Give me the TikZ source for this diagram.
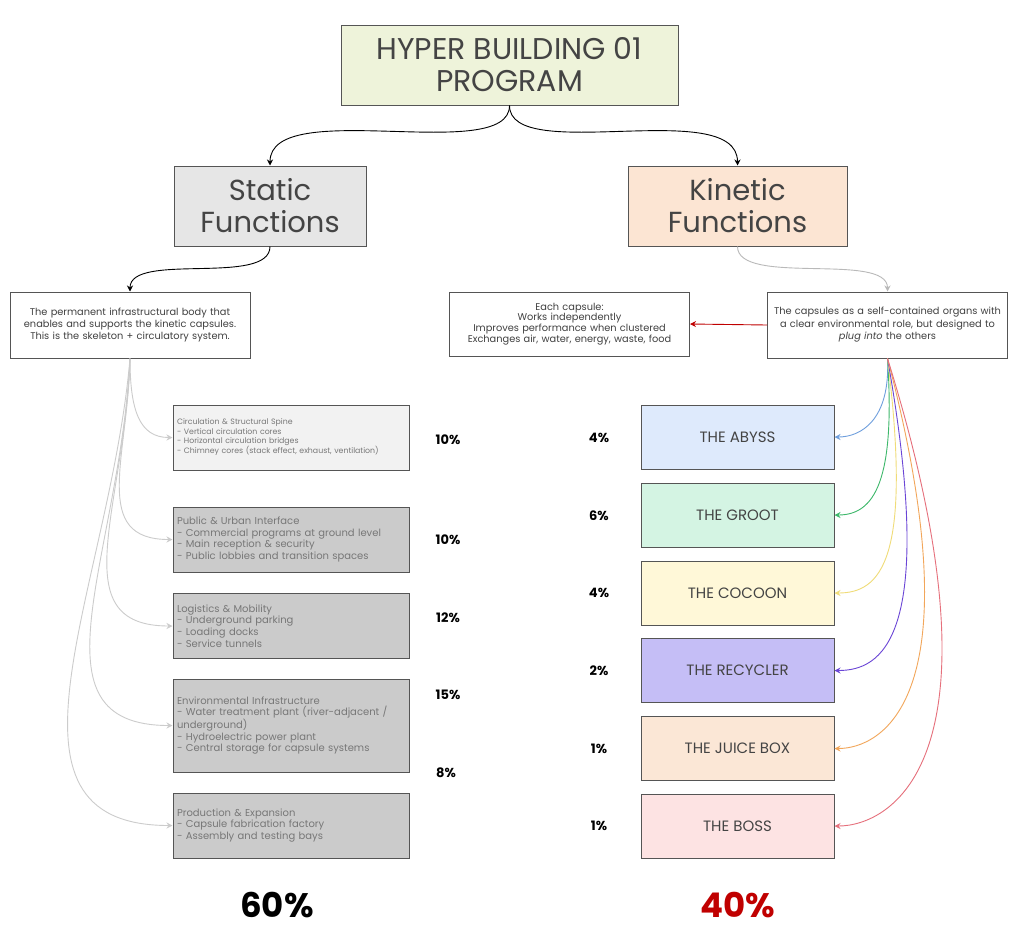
\documentclass[tikz,border=0pt]{standalone}
\usepackage{fontspec}
\setmainfont{Poppins}
\usepackage{xcolor}
\usetikzlibrary{arrows.meta, positioning}
\definecolor{bordercolor}{HTML}{555555}
\definecolor{textgray}{HTML}{444444}
\definecolor{softgray}{HTML}{777777}
\definecolor{titlegreen}{HTML}{EEF3DA}
\definecolor{staticgray}{HTML}{E6E6E6}
\definecolor{kineticpeach}{HTML}{FCE5D3}
\definecolor{lightfill}{HTML}{F2F2F2}
\definecolor{darkfill}{HTML}{CBCBCB}
\definecolor{abyssblue}{HTML}{DEEAFC}
\definecolor{grootgreen}{HTML}{D4F4E3}
\definecolor{cocoonyellow}{HTML}{FFF8D8}
\definecolor{recyclerpurple}{HTML}{C5BEF6}
\definecolor{juiceorange}{HTML}{FBE7D6}
\definecolor{bosspink}{HTML}{FDE3E3}
\definecolor{accentred}{HTML}{C00000}
\definecolor{abyssline}{HTML}{6F9FDD}
\definecolor{grootline}{HTML}{3DB86A}
\definecolor{cocoonline}{HTML}{F0DC78}
\definecolor{recyclerline}{HTML}{6A45D6}
\definecolor{juiceline}{HTML}{F2A65A}
\definecolor{bossline}{HTML}{E6707C}

\begin{document}
\begin{tikzpicture}[x=1pt, y=-1pt,
  box/.style={rectangle, draw=bordercolor, line width=1pt, align=center, text=textgray},
  headbox/.style={box, font=\fontsize{29}{32}\selectfont, minimum height=80},
  descbox/.style={box, fill=white, minimum height=65, text width=234, inner xsep=3, text=darkgray, font=\fontsize{9.8}{11.7}\selectfont},
  progbox/.style={box, minimum width=236, minimum height=65, text width=228, inner xsep=4, align=left, text=softgray, font=\fontsize{10}{11.6}\selectfont},
  capsule/.style={box, minimum width=193, minimum height=64, font=\fontsize{15}{17}\selectfont},
  pct/.style={font=\fontsize{13}{15}\selectfont\bfseries},
  total/.style={font=\fontsize{34}{40}\selectfont\bfseries},
  arrow/.style={-{Stealth[length=6pt, width=6pt]}, line width=0.9pt},
  feed/.style={-{Stealth[length=6pt, width=6pt]}, draw=gray!55, line width=0.9pt}
]
  \useasboundingbox[fill=white] (0,0) rectangle (1024,932);

  % Top of the tree
  \node[headbox, fill=titlegreen, minimum width=337, font=\fontsize{30}{32}\selectfont] (title) at (509.5,65) {HYPER BUILDING 01\\PROGRAM};
  \node[headbox, fill=staticgray, minimum width=192] (static) at (270,206) {Static\\Functions};
  \node[headbox, fill=kineticpeach, minimum width=219] (kinetic) at (737.5,206) {Kinetic\\Functions};

  % Descriptions
  \node[descbox, minimum height=66] (sdesc) at (130,325) {The permanent infrastructural body that\\enables and supports the kinetic capsules.\\This is the skeleton + circulatory system.};
  \node[descbox, minimum height=64, font=\fontsize{9.8}{10.7}\selectfont] (each) at (569.5,324) {Each capsule:\\Works independently\\Improves performance when clustered\\Exchanges air, water, energy, waste, food};
  \node[descbox, minimum height=66, font=\fontsize{9.8}{12.5}\selectfont] (kdesc) at (887.5,325) {The capsules as a self-contained organs with\\a clear environmental role, but designed to\\\textit{plug into} the others};

  % Static program
  \node[progbox, fill=lightfill, font=\fontsize{7.8}{9.3}\selectfont] (spine) at (291,437.5) {Circulation \& Structural Spine\\- Vertical circulation cores\\- Horizontal circulation bridges\\- Chimney cores (stack effect, exhaust, ventilation)};
  \node[progbox, fill=darkfill] (urban) at (291,539.5) {Public \& Urban Interface\\- Commercial programs at ground level\\- Main reception \& security\\- Public lobbies and transition spaces};
  \node[progbox, fill=darkfill] (logis) at (291,626) {Logistics \& Mobility\\- Underground parking\\- Loading docks\\- Service tunnels};
  \node[progbox, fill=darkfill, minimum height=93] (envir) at (291,725.5) {Environmental Infrastructure\\- Water treatment plant (river-adjacent /\\underground)\\- Hydroelectric power plant\\- Central storage for capsule systems};
  \node[progbox, fill=darkfill] (produ) at (291,825.5) {Production \& Expansion\\- Capsule fabrication factory\\- Assembly and testing bays};

  % Kinetic capsules
  \node[capsule, fill=abyssblue] (abyss) at (737.5,437) {THE ABYSS};
  \node[capsule, fill=grootgreen] (groot) at (737.5,515) {THE GROOT};
  \node[capsule, fill=cocoonyellow] (cocoon) at (737.5,593) {THE COCOON};
  \node[capsule, fill=recyclerpurple] (recycler) at (737.5,670.5) {THE RECYCLER};
  \node[capsule, fill=juiceorange] (juice) at (737.5,748.5) {THE JUICE BOX};
  \node[capsule, fill=bosspink] (boss) at (737.5,826) {THE BOSS};

  % Shares
  \node[pct] (ps1) at (448,440) {10\%};
  \node[pct] (ps2) at (448,540) {10\%};
  \node[pct] (ps3) at (448,618) {12\%};
  \node[pct] (ps4) at (448,695) {15\%};
  \node[pct] (ps5) at (446,773) {8\%};
  \node[pct] (pk1) at (599,438) {4\%};
  \node[pct] (pk2) at (599,516) {6\%};
  \node[pct] (pk3) at (599,593) {4\%};
  \node[pct] (pk4) at (599,671) {2\%};
  \node[pct] (pk5) at (599,749) {1\%};
  \node[pct] (pk6) at (599,826) {1\%};
  \node[total] (stotal) at (277,905) {60\%};
  \node[total, text=accentred] (ktotal) at (738,905) {40\%};

  % Main branches
  \draw[arrow] (title.south) .. controls +(0,60) and +(0,-70) .. (static.north);
  \draw[arrow] (title.south) .. controls +(0,60) and +(0,-70) .. (kinetic.north);
  \draw[arrow] (static.south) .. controls +(0,40) and +(0,-40) .. (sdesc.north);
  \draw[feed] (kinetic.south) .. controls +(0,40) and +(0,-40) .. (kdesc.north);
  \draw[arrow, draw=accentred] (kdesc.west) -- (each.east);

  % Static connections
  \draw[feed, draw=gray!40] (sdesc.south) .. controls +(0,52) and +(-33,0) .. (spine.west);
  \draw[feed, draw=gray!40] (sdesc.south) .. controls +(-2,100) and +(-82,0) .. (urban.west);
  \draw[feed, draw=gray!40] (sdesc.south) .. controls +(-5,150) and +(-111,0) .. (logis.west);
  \draw[feed, draw=gray!40] (sdesc.south) .. controls +(-10,200) and +(-148,0) .. (envir.west);
  \draw[feed, draw=gray!40] (sdesc.south) .. controls +(-20,230) and +(-193,0) .. (produ.west);

  % Kinetic connections
  \draw[arrow, draw=abyssline] (kdesc.south) .. controls +(3,62) and +(26,0) .. (abyss.east);
  \draw[arrow, draw=grootline] (kdesc.south) .. controls +(8,122) and +(40,0) .. (groot.east);
  \draw[arrow, draw=cocoonline] (kdesc.south) .. controls +(25,202) and +(46,0) .. (cocoon.east);
  \draw[arrow, draw=recyclerline] (kdesc.south) .. controls +(50,282) and +(46,0) .. (recycler.east);
  \draw[arrow, draw=juiceline] (kdesc.south) .. controls +(90,342) and +(46,0) .. (juice.east);
  \draw[arrow, draw=bossline] (kdesc.south) .. controls +(125,402) and +(56,0) .. (boss.east);
\end{tikzpicture}
\end{document}
